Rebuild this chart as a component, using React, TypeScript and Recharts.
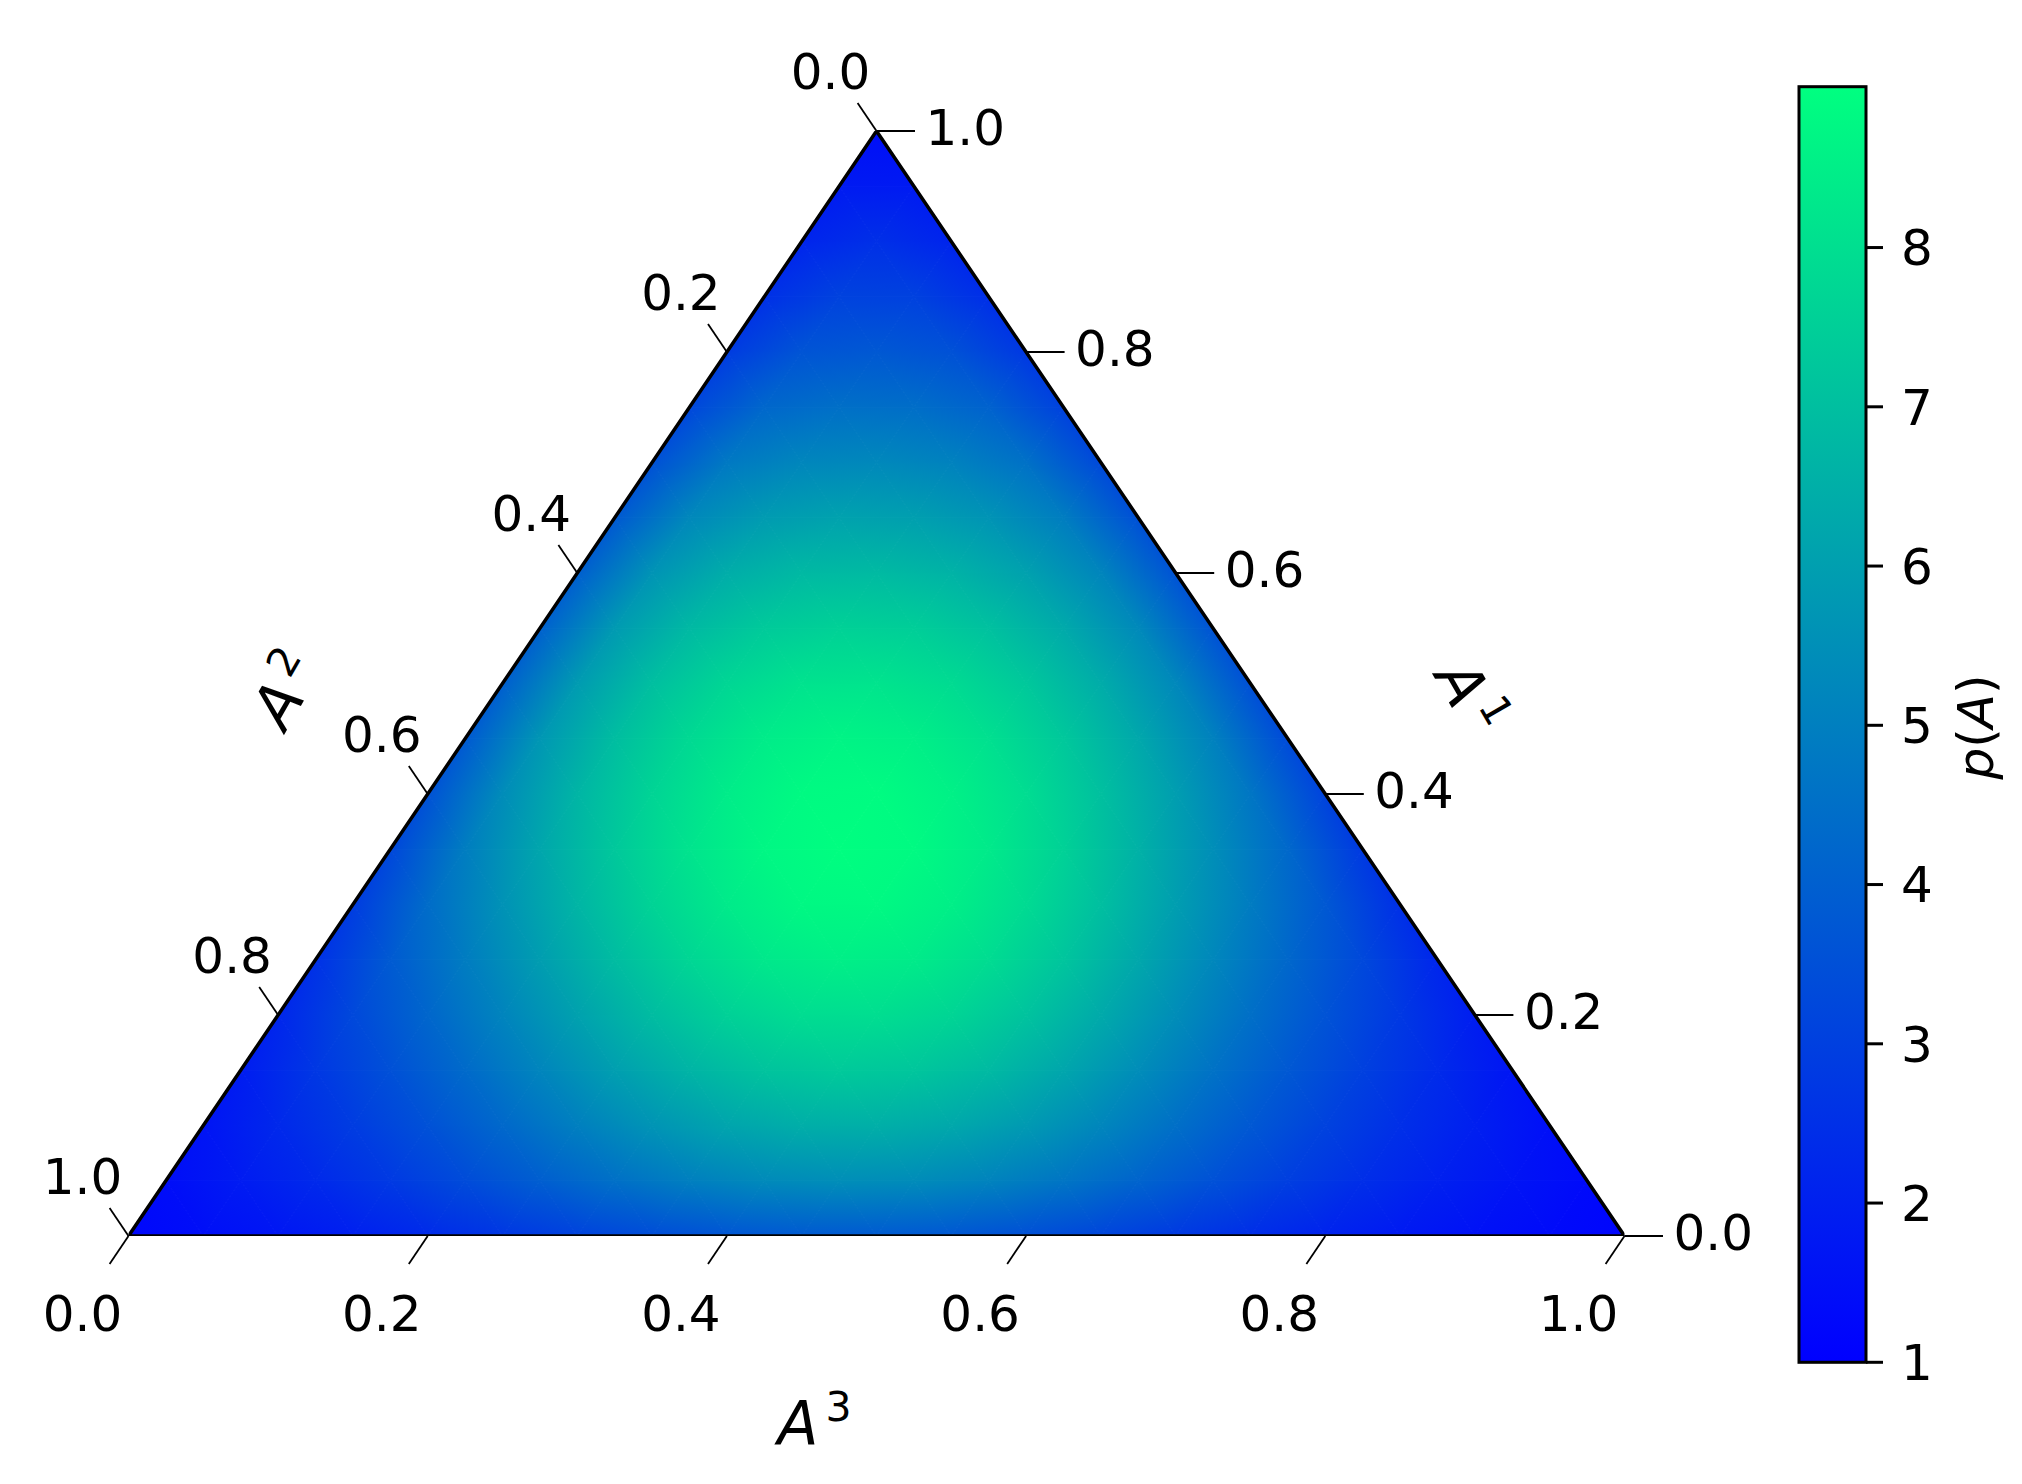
import React from 'react';
import {
  ScatterChart,
  Scatter,
  ComposedChart,
  XAxis,
  YAxis,
  ReferenceDot,
  ReferenceArea,
} from 'recharts';

const FONT = "'DejaVu Sans', sans-serif";

// p(A) on a 0.05 grid.
// row j is A¹ = 0.05·j, entries run along A³ = 0, 0.05, ... (A² is what is left)
const densityRows: number[][] = [
  [1.21, 1.44, 1.68, 1.97, 2.31, 2.69, 3.06, 3.4, 3.66, 3.81, 3.83, 3.72, 3.49, 3.17, 2.8, 2.42, 2.07, 1.77, 1.52, 1.32, 1.15],
  [1.41, 1.84, 2.28, 2.79, 3.36, 3.95, 4.52, 5.0, 5.34, 5.47, 5.4, 5.12, 4.68, 4.13, 3.53, 2.96, 2.43, 1.99, 1.63, 1.3],
  [1.63, 2.26, 2.87, 3.54, 4.27, 5.0, 5.66, 6.17, 6.46, 6.5, 6.28, 5.83, 5.21, 4.49, 3.76, 3.07, 2.47, 1.96, 1.47],
  [1.89, 2.72, 3.5, 4.32, 5.17, 5.98, 6.66, 7.13, 7.33, 7.22, 6.83, 6.2, 5.42, 4.58, 3.76, 3.01, 2.33, 1.67],
  [2.19, 3.25, 4.19, 5.14, 6.07, 6.91, 7.55, 7.93, 7.98, 7.7, 7.12, 6.33, 5.43, 4.49, 3.6, 2.77, 1.91],
  [2.53, 3.82, 4.91, 5.94, 6.91, 7.72, 8.28, 8.52, 8.39, 7.92, 7.18, 6.25, 5.24, 4.24, 3.26, 2.19],
  [2.89, 4.4, 5.6, 6.68, 7.63, 8.36, 8.78, 8.83, 8.52, 7.87, 6.99, 5.96, 4.88, 3.77, 2.49],
  [3.24, 4.94, 6.2, 7.27, 8.15, 8.75, 8.99, 8.86, 8.36, 7.57, 6.57, 5.46, 4.27, 2.8],
  [3.56, 5.4, 6.67, 7.67, 8.42, 8.85, 8.9, 8.58, 7.93, 7.02, 5.95, 4.71, 3.09],
  [3.82, 5.73, 6.94, 7.82, 8.41, 8.65, 8.52, 8.04, 7.27, 6.27, 5.06, 3.34],
  [3.99, 5.88, 6.99, 7.72, 8.12, 8.17, 7.88, 7.28, 6.41, 5.26, 3.52],
  [4.04, 5.85, 6.81, 7.36, 7.58, 7.47, 7.05, 6.34, 5.31, 3.61],
  [3.98, 5.64, 6.43, 6.8, 6.85, 6.61, 6.07, 5.19, 3.6],
  [3.81, 5.27, 5.88, 6.09, 6.0, 5.64, 4.93, 3.5],
  [3.55, 4.79, 5.21, 5.28, 5.07, 4.54, 3.3],
  [3.23, 4.23, 4.5, 4.44, 4.07, 3.05],
  [2.87, 3.64, 3.77, 3.55, 2.75],
  [2.51, 3.06, 3.03, 2.43],
  [2.16, 2.48, 2.12],
  [1.83, 1.81],
  [1.44],
];

const STEP = 0.05;
const axisTicks = [0, 0.2, 0.4, 0.6, 0.8, 1.0];
const colorbarTicks = [1, 2, 3, 4, 5, 6, 7, 8];
const densityRange: [number, number] = [1, 9.01];

// ternary -> cartesian (u along the base, v = height)
type GridPoint = { u: number; v: number; p: number };
const rowStart: number[] = [];
const gridPoints: GridPoint[] = [];
densityRows.forEach((row, j) => {
  rowStart.push(gridPoints.length);
  const a1 = j * STEP;
  row.forEach((p, k) => {
    const a3 = k * STEP;
    gridPoints.push({ u: a3 + a1 / 2, v: a1, p });
  });
});

// matplotlib "winter"
const winter = (t: number) => {
  const c = Math.max(0, Math.min(1, t));
  return `rgb(0,${(255 * c).toFixed(2)},${(255 * (1 - 0.5 * c)).toFixed(2)})`;
};

type Node = { x: number; y: number; t: number };

function HeatLayer(props: any) {
  const pts: { x: number; y: number }[] = props.points || [];
  if (pts.length !== gridPoints.length) return null;
  const [lo, hi] = densityRange;
  const node = (j: number, k: number): Node => {
    const q = pts[rowStart[j] + k];
    return { x: q.x, y: q.y, t: (densityRows[j][k] - lo) / (hi - lo) };
  };
  const n = densityRows.length - 1;
  const tris: Node[][] = [];
  for (let j = 0; j < n; j++) {
    for (let k = 0; k < n - j; k++) {
      tris.push([node(j, k), node(j, k + 1), node(j + 1, k)]);
      if (k < n - j - 1) tris.push([node(j, k + 1), node(j + 1, k + 1), node(j + 1, k)]);
    }
  }
  const defs: React.ReactNode[] = [];
  const cells: React.ReactNode[] = [];
  tris.forEach((tri, i) => {
    const [p0, p1, p2] = tri;
    const id = `hm${i}`;
    const e1x = p1.x - p0.x, e1y = p1.y - p0.y;
    const e2x = p2.x - p0.x, e2y = p2.y - p0.y;
    const det = e1x * e2y - e1y * e2x;
    const d1 = p1.t - p0.t, d2 = p2.t - p0.t;
    const gx = (d1 * e2y - d2 * e1y) / det;
    const gy = (d2 * e1x - d1 * e2x) / det;
    const g2 = gx * gx + gy * gy;
    const tMin = Math.min(p0.t, p1.t, p2.t);
    const tMax = Math.max(p0.t, p1.t, p2.t);
    let paint: string;
    if (tMax - tMin < 1e-6 || g2 < 1e-14) {
      paint = winter((tMin + tMax) / 2);
    } else {
      defs.push(
        <linearGradient
          key={id}
          id={id}
          gradientUnits="userSpaceOnUse"
          x1={p0.x + ((tMin - p0.t) * gx) / g2}
          y1={p0.y + ((tMin - p0.t) * gy) / g2}
          x2={p0.x + ((tMax - p0.t) * gx) / g2}
          y2={p0.y + ((tMax - p0.t) * gy) / g2}
        >
          <stop offset="0" stopColor={winter(tMin)} />
          <stop offset="1" stopColor={winter(tMax)} />
        </linearGradient>
      );
      paint = `url(#${id})`;
    }
    cells.push(
      <path
        key={id}
        d={`M${p0.x},${p0.y}L${p1.x},${p1.y}L${p2.x},${p2.y}Z`}
        fill={paint}
        stroke={paint}
        strokeWidth={1}
        strokeLinejoin="round"
      />
    );
  });
  // the black boundary goes over the cells, through the three corner points
  const bl = node(0, 0);
  const br = node(0, n);
  const top = node(n, 0);
  return (
    <g>
      <defs>{defs}</defs>
      {cells}
      <path
        d={`M${bl.x},${bl.y}L${br.x},${br.y}L${top.x},${top.y}Z`}
        fill="none"
        stroke="#000"
        strokeWidth={3.5}
        strokeLinejoin="miter"
      />
    </g>
  );
}

const HiddenMark = () => <g />;

const labelStyle = { fontFamily: FONT, fontSize: 50, fill: '#000' };

const bottomTick = (label: string) => (props: any) => (
  <g>
    <line x1={props.cx} y1={props.cy} x2={props.cx - 18.9} y2={props.cy + 27.9} stroke="#000" strokeWidth={1.8} />
    <text x={props.cx - 46} y={props.cy + 95} textAnchor="middle" {...labelStyle}>{label}</text>
  </g>
);

const leftTick = (label: string) => (props: any) => (
  <g>
    <line x1={props.cx} y1={props.cy} x2={props.cx - 18.9} y2={props.cy - 27.9} stroke="#000" strokeWidth={1.8} />
    <text x={props.cx - 46} y={props.cy - 42} textAnchor="middle" {...labelStyle}>{label}</text>
  </g>
);

const rightTick = (label: string) => (props: any) => (
  <g>
    <line x1={props.cx} y1={props.cy} x2={props.cx + 38.5} y2={props.cy} stroke="#000" strokeWidth={1.8} />
    <text x={props.cx + 49} y={props.cy + 14} textAnchor="start" {...labelStyle}>{label}</text>
  </g>
);

const axisTitle = (sup: string, dx: number, dy: number, angle: number) => (props: any) => {
  const x = props.cx + dx;
  const y = props.cy + dy;
  return (
    <text x={x} y={y} transform={`rotate(${angle} ${x} ${y})`} fontFamily={FONT} fontSize={60} fill="#000">
      <tspan fontStyle="italic">A</tspan>
      <tspan fontSize={41} dx={7} dy={-23}>{sup}</tspan>
    </text>
  );
};

const colorbarLabel = (props: any) => {
  const x = props.cx + 127;
  const y = props.cy + 2.5;
  return (
    <text x={x} y={y} transform={`rotate(-90 ${x} ${y})`} textAnchor="middle" fontFamily={FONT} fontSize={50} fill="#000">
      <tspan fontStyle="italic">p</tspan>(<tspan fontStyle="italic">A</tspan>)
    </text>
  );
};

const colorbarShape = (props: any) => (
  <g>
    <defs>
      <linearGradient id="cbGrad" x1="0" y1="1" x2="0" y2="0">
        <stop offset="0" stopColor={winter(0)} />
        <stop offset="1" stopColor={winter(1)} />
      </linearGradient>
    </defs>
    <rect x={props.x} y={props.y} width={props.width} height={props.height} fill="url(#cbGrad)" stroke="#000" strokeWidth={3} />
  </g>
);

export default function App() {
  return (
    <div style={{ position: 'absolute', left: 0, top: 0, width: 2022, height: 1484, background: '#fff' }}>
      <div style={{ position: 'absolute', left: 0, top: 0 }}>
        <ScatterChart width={2022} height={1484} margin={{ top: 131, right: 397.5, bottom: 248, left: 128.5 }}>
          <XAxis type="number" dataKey="u" domain={[0, 1]} hide allowDataOverflow />
          <YAxis type="number" dataKey="v" domain={[0, 1]} hide allowDataOverflow />
          <Scatter
            data={gridPoints}
            isAnimationActive={false}
            line={<HeatLayer />}
            lineType="joint"
            shape={<HiddenMark />}
          />
          {axisTicks.map((a) => (
            <ReferenceDot key={`b-${a}`} x={a} y={0} ifOverflow="visible" shape={bottomTick(a.toFixed(1))} />
          ))}
          {axisTicks.map((a) => (
            <ReferenceDot key={`r-${a}`} x={1 - a / 2} y={a} ifOverflow="visible" shape={rightTick(a.toFixed(1))} />
          ))}
          {axisTicks.map((b) => (
            <ReferenceDot key={`l-${b}`} x={(1 - b) / 2} y={1 - b} ifOverflow="visible" shape={leftTick(b.toFixed(1))} />
          ))}
          <ReferenceDot x={0.5} y={0} ifOverflow="visible" shape={axisTitle('3', -99, 208, 0)} />
          <ReferenceDot x={0.25} y={0.5} ifOverflow="visible" shape={axisTitle('2', -217, 49, -60)} />
          <ReferenceDot x={0.75} y={0.5} ifOverflow="visible" shape={axisTitle('1', 183, -7.5, 60)} />
        </ScatterChart>
      </div>
      <div style={{ position: 'absolute', left: 1760, top: 0 }}>
        <ComposedChart width={262} height={1484} margin={{ top: 86.7, right: 0, bottom: 121.7, left: 39 }} data={[]}>
          <XAxis type="number" dataKey="x" domain={[0, 1]} hide allowDataOverflow />
          <YAxis
            type="number"
            orientation="right"
            domain={densityRange}
            ticks={colorbarTicks}
            width={156}
            tickSize={17}
            tickMargin={18}
            axisLine={false}
            tickLine={{ stroke: '#000', strokeWidth: 3 }}
            tick={{ fontSize: 50, fill: '#000', fontFamily: FONT }}
            allowDataOverflow
            interval={0}
          />
          <ReferenceArea y1={densityRange[0]} y2={densityRange[1]} ifOverflow="visible" shape={colorbarShape} />
          <ReferenceDot x={1} y={(densityRange[0] + densityRange[1]) / 2} ifOverflow="visible" shape={colorbarLabel} />
        </ComposedChart>
      </div>
    </div>
  );
}
